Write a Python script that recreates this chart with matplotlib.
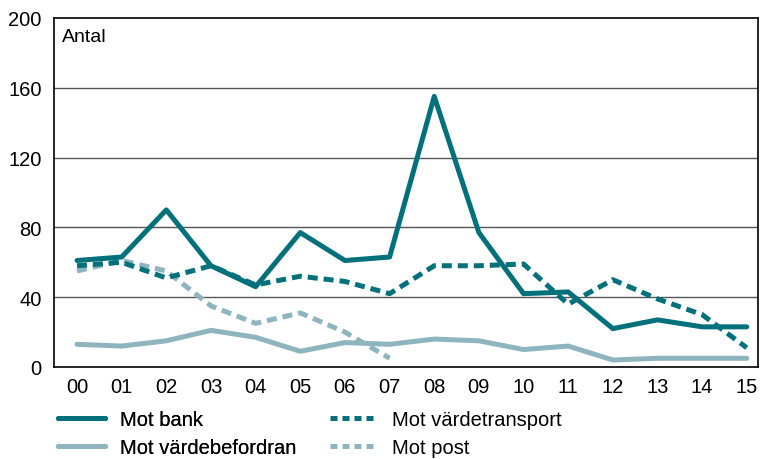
import numpy as np
import matplotlib
matplotlib.use("Agg")
import matplotlib.pyplot as plt
from matplotlib.lines import Line2D

plt.rcParams['font.family'] = ['Liberation Sans', 'DejaVu Sans']

years = ["00", "01", "02", "03", "04", "05", "06", "07",
         "08", "09", "10", "11", "12", "13", "14", "15"]
mot_bank = [61, 63, 90, 58, 46, 77, 61, 63, 155, 77, 42, 43, 22, 27, 23, 23]
mot_vardetransport = [58, 60, 51, 58, 47, 52, 49, 42, 58, 58, 59, 36, 50, 39, 30, 11]
mot_vardebefordran = [13, 12, 15, 21, 17, 9, 14, 13, 16, 15, 10, 12, 4, 5, 5, 5]
mot_post = [55, 61, 55, 35, 25, 31, 20, 5]

dark = "#00707A"
light = "#8EB4BD"

fig = plt.figure(figsize=(7.61, 4.60), dpi=100)
ax = fig.add_axes([0.071, 0.2, 0.925, 0.759])

x = np.arange(len(years))
lw = 3.6
dash = (0, (2.0, 1.2))
ax.plot(x, mot_vardebefordran, color=light, lw=lw, solid_capstyle="round")
ax.plot(x[:len(mot_post)], mot_post, color=light, lw=lw, linestyle=dash)
ax.plot(x, mot_vardetransport, color=dark, lw=lw, linestyle=dash)
ax.plot(x, mot_bank, color=dark, lw=lw, solid_capstyle="round")

ax.set_xlim(-0.515, 15.25)
ax.set_ylim(0, 200)
ax.set_yticks([0, 40, 80, 120, 160, 200])
ax.set_xticks(x)
ax.set_xticklabels(years)
ax.tick_params(length=0, labelsize=14.5, pad=7)
ax.tick_params(axis="y", pad=9)
for y in [40, 80, 120, 160]:
    ax.axhline(y, color="#555555", lw=1.0, zorder=0)
for s in ax.spines.values():
    s.set_linewidth(1.2)
    s.set_color("black")

ax.text(0.011, 0.97, "Antal", transform=ax.transAxes, fontsize=14,
        va="top", ha="left")

legend_dash = (0, (1.4, 1.0))
h1 = [Line2D([], [], color=dark, lw=lw, solid_capstyle="round"),
      Line2D([], [], color=light, lw=lw, solid_capstyle="round")]
h2 = [Line2D([], [], color=dark, lw=lw, linestyle=legend_dash),
      Line2D([], [], color=light, lw=lw, linestyle=legend_dash)]
common = dict(loc="center left", frameon=False, fontsize=14.5,
              handlelength=2.35, handletextpad=0.75, labelspacing=0.45,
              borderaxespad=0, borderpad=0)
leg1 = fig.legend(h1, ["Mot bank", "Mot värdebefordran"],
                  bbox_to_anchor=(58 / 761, 0.056), **common)
fig.add_artist(leg1)
fig.legend(h2, ["Mot värdetransport", "Mot post"],
           bbox_to_anchor=(330 / 761, 0.056), **common)

fig.savefig("out.png", dpi=100)
